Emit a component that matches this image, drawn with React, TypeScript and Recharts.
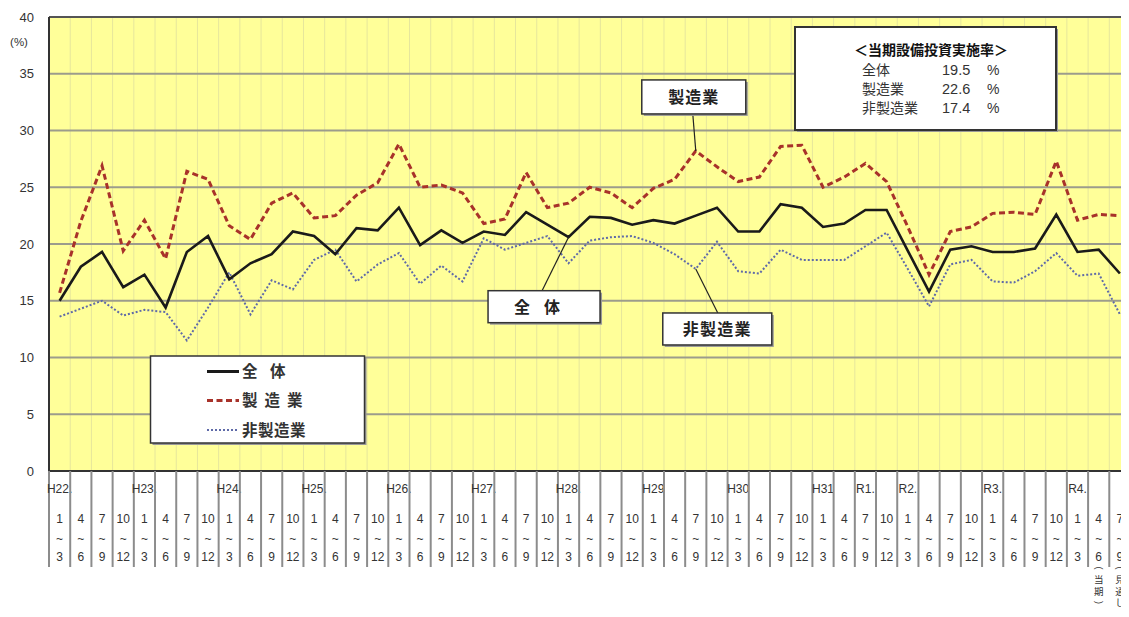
import {
  LineChart,
  Line,
  XAxis,
  YAxis,
  CartesianGrid,
  ReferenceLine,
  ReferenceDot,
} from "recharts"

// 四半期ラベル: [年度, 開始月, 終了月, 注記]
const categories: [string, string, string, string?][] = [
  ["H22.", "1", "3"], ["", "4", "6"], ["", "7", "9"], ["", "10", "12"],
  ["H23.", "1", "3"], ["", "4", "6"], ["", "7", "9"], ["", "10", "12"],
  ["H24.", "1", "3"], ["", "4", "6"], ["", "7", "9"], ["", "10", "12"],
  ["H25.", "1", "3"], ["", "4", "6"], ["", "7", "9"], ["", "10", "12"],
  ["H26.", "1", "3"], ["", "4", "6"], ["", "7", "9"], ["", "10", "12"],
  ["H27.", "1", "3"], ["", "4", "6"], ["", "7", "9"], ["", "10", "12"],
  ["H28.", "1", "3"], ["", "4", "6"], ["", "7", "9"], ["", "10", "12"],
  ["H29", "1", "3"], ["", "4", "6"], ["", "7", "9"], ["", "10", "12"],
  ["H30", "1", "3"], ["", "4", "6"], ["", "7", "9"], ["", "10", "12"],
  ["H31", "1", "3"], ["", "4", "6"],
  ["R1.", "7", "9"], ["", "10", "12"],
  ["R2.", "1", "3"], ["", "4", "6"], ["", "7", "9"], ["", "10", "12"],
  ["R3.", "1", "3"], ["", "4", "6"], ["", "7", "9"], ["", "10", "12"],
  ["R4.", "1", "3"], ["", "4", "6", "当期"], ["", "7", "9", "見通し"],
]

// 設備投資実施率 (%)
const total = [
  15.0, 18.0, 19.3, 16.2, 17.3, 14.4, 19.3, 20.7, 16.9, 18.3,
  19.1, 21.1, 20.7, 19.1, 21.4, 21.2, 23.2, 19.9, 21.2, 20.1,
  21.1, 20.8, 22.8, 21.7, 20.6, 22.4, 22.3, 21.7, 22.1, 21.8,
  22.5, 23.2, 21.1, 21.1, 23.5, 23.2, 21.5, 21.8, 23.0, 23.0,
  19.4, 15.8, 19.5, 19.8, 19.3, 19.3, 19.6, 22.6, 19.3, 19.5, 17.4,
]
const manufacturing = [
  15.7, 22.0, 26.9, 19.4, 22.1, 18.7, 26.4, 25.7, 21.6, 20.4,
  23.6, 24.5, 22.3, 22.5, 24.3, 25.4, 28.8, 25.0, 25.2, 24.5,
  21.8, 22.2, 26.3, 23.2, 23.6, 25.0, 24.5, 23.2, 24.9, 25.7,
  28.2, 26.8, 25.5, 25.9, 28.6, 28.7, 25.0, 25.9, 27.1, 25.5,
  21.5, 17.3, 21.1, 21.5, 22.7, 22.8, 22.6, 27.3, 22.1, 22.6, 22.5,
]
const nonManufacturing = [
  13.6, 14.3, 15.0, 13.7, 14.2, 14.0, 11.5, 14.4, 17.5, 13.8,
  16.8, 16.0, 18.6, 19.5, 16.7, 18.2, 19.2, 16.5, 18.1, 16.7,
  20.5, 19.5, 20.1, 20.7, 18.3, 20.3, 20.6, 20.7, 20.1, 19.1,
  17.8, 20.2, 17.6, 17.4, 19.5, 18.6, 18.6, 18.6, 19.8, 21.0,
  17.8, 14.5, 18.2, 18.6, 16.7, 16.6, 17.6, 19.2, 17.2, 17.4, 13.8,
]

const yTicks = [0, 5, 10, 15, 20, 25, 30, 35, 40]
const CURRENT = 49 // 当期 (R4.4~6)
const CALLOUT_AT = { total: 24, mfg: 30, nonMfg: 30 }

const W = 1140
const H = 617
const Y_AXIS_W = 49
const RIGHT = 9.5
const BAND = (W - Y_AXIS_W - RIGHT) / categories.length

const JP = "'Noto Sans CJK JP', 'Noto Sans', sans-serif"
const NUM = "'Liberation Sans', Arial, sans-serif"

const chartData = categories.map((_, i) => ({
  pos: i + 0.5,
  total: total[i],
  mfg: manufacturing[i],
  nonMfg: nonManufacturing[i],
}))
const boundaries = Array.from({ length: categories.length + 1 }, (_, i) => i)

function PeriodTick({ x, y, payload }: any) {
  const cat = categories[payload.value]
  const cx = x + BAND / 2
  const note = cat && cat[3] ? ["(", ...cat[3].split(""), ")"] : []
  return (
    <g>
      <line x1={x} y1={y} x2={x} y2={y + 96} stroke="#8c8c8c" strokeWidth={2} />
      {cat && (
        <g fontFamily={NUM} fontSize={12} fill="#333" textAnchor="middle">
          {cat[0] && <text x={cx} y={y + 22}>{cat[0]}</text>}
          <text x={cx} y={y + 52}>{cat[1]}</text>
          <text x={cx} y={y + 72}>~</text>
          <text x={cx} y={y + 90}>{cat[2]}</text>
          {/* 縦書きの注記、括弧は90度回転 */}
          {note.map((ch, k) => {
            const cy = y + 97 + k * 11.5
            const paren = ch === "(" || ch === ")"
            return paren ? (
              <text
                key={k}
                x={cx}
                y={cy}
                dominantBaseline="central"
                fontSize={9}
                transform={`rotate(90 ${cx} ${cy})`}
              >
                {ch}
              </text>
            ) : (
              <text key={k} x={cx} y={cy + 3.5} fontFamily={JP} fontSize={9.5}>
                {ch}
              </text>
            )
          })}
        </g>
      )}
    </g>
  )
}

function ValueTick({ x, y, payload }: any) {
  return (
    <text x={x - 15} y={y + 4.5} textAnchor="end" fontFamily={NUM} fontSize={13} fill="#333">
      {payload.value}
    </text>
  )
}

// 吹き出し: データ点から引出線を引いた白い枠
function Callout({ cx, cy, box, anchor, text, spacing }: any) {
  const [bx, by, bw, bh] = box
  return (
    <g>
      <line x1={cx + anchor[0]} y1={cy + anchor[1]} x2={cx} y2={cy} stroke="#222" strokeWidth={1.2} />
      <rect x={cx + bx + 2} y={cy + by + 2} width={bw} height={bh} fill="#9a9a9a" />
      <rect x={cx + bx} y={cy + by} width={bw} height={bh} fill="#fff" stroke="#333" strokeWidth={1.5} />
      <text
        x={cx + bx + bw / 2}
        y={cy + by + bh / 2 + 6}
        textAnchor="middle"
        fontFamily={JP}
        fontSize={16}
        fontWeight="bold"
        letterSpacing={spacing}
        fill="#222"
      >
        {text}
      </text>
    </g>
  )
}

export default function App() {
  return (
    <div
      style={{
        position: "relative",
        margin: -8,
        width: 1129,
        height: 617,
        overflow: "hidden",
        background: "#fff",
        fontFamily: JP,
      }}
    >
      <LineChart width={W} height={H} data={chartData} margin={{ top: 17, right: RIGHT, bottom: 0, left: 0 }}>
        <CartesianGrid horizontal={false} vertical fill="#ffff99" stroke="#e6e69c" strokeWidth={1} />
        <CartesianGrid horizontal vertical={false} stroke="#9c9c8c" strokeWidth={2} />
        <XAxis
          dataKey="pos"
          type="number"
          domain={[0, categories.length]}
          ticks={boundaries}
          interval={0}
          height={146}
          tickSize={0}
          tickMargin={0}
          tickLine={false}
          axisLine={{ stroke: "#333", strokeWidth: 2 }}
          tick={<PeriodTick />}
        />
        <YAxis
          domain={[0, 40]}
          ticks={yTicks}
          interval={0}
          width={Y_AXIS_W}
          tickSize={0}
          tickMargin={0}
          tickLine={false}
          axisLine={{ stroke: "#333", strokeWidth: 2 }}
          tick={<ValueTick />}
        />
        <ReferenceLine y={40} stroke="#555" strokeWidth={2} />
        <Line
          dataKey="nonMfg"
          stroke="#5f6aa8"
          strokeWidth={2}
          strokeDasharray="2 2"
          dot={false}
          activeDot={false}
          isAnimationActive={false}
        />
        <Line
          dataKey="mfg"
          stroke="#a8322a"
          strokeWidth={3}
          strokeDasharray="6 3.5"
          dot={false}
          activeDot={false}
          isAnimationActive={false}
        />
        <Line
          dataKey="total"
          stroke="#1a1a1a"
          strokeWidth={2.6}
          dot={false}
          activeDot={false}
          isAnimationActive={false}
        />
        <ReferenceDot
          x={chartData[CALLOUT_AT.mfg].pos}
          y={manufacturing[CALLOUT_AT.mfg]}
          r={2}
          ifOverflow="visible"
          shape={(p: any) => (
            <Callout cx={p.cx} cy={p.cy} box={[-54, -71, 104, 34]} anchor={[-3, -37]} text="製造業" spacing={1} />
          )}
        />
        <ReferenceDot
          x={chartData[CALLOUT_AT.total].pos}
          y={total[CALLOUT_AT.total]}
          r={2}
          ifOverflow="visible"
          shape={(p: any) => (
            <Callout cx={p.cx} cy={p.cy} box={[-80.5, 53.5, 112, 32]} anchor={[-26.5, 53.5]} text="全体" spacing={14} />
          )}
        />
        <ReferenceDot
          x={chartData[CALLOUT_AT.nonMfg].pos}
          y={nonManufacturing[CALLOUT_AT.nonMfg]}
          r={2}
          ifOverflow="visible"
          shape={(p: any) => (
            <Callout cx={p.cx} cy={p.cy} box={[-33, 44, 109, 32]} anchor={[22, 44]} text="非製造業" spacing={1.3} />
          )}
        />
      </LineChart>

      <svg
        width={1129}
        height={617}
        style={{ position: "absolute", left: 0, top: 0, pointerEvents: "none" }}
      >
        <text x={19} y={46} textAnchor="middle" fontFamily={NUM} fontSize={11.5} fill="#333">
          (%)
        </text>

        {/* 当期の実施率 */}
        <rect x={797} y={29} width={261} height={103} fill="#9a9a9a" />
        <rect x={795} y={27} width={261} height={103} fill="#fff" stroke="#333" strokeWidth={2} />
        <text x={931} y={55} textAnchor="middle" fontFamily={JP} fontSize={14} fontWeight="bold" fill="#111">
          ＜当期設備投資実施率＞
        </text>
        {[
          ["全体", total[CURRENT]],
          ["製造業", manufacturing[CURRENT]],
          ["非製造業", nonManufacturing[CURRENT]],
        ].map(([name, v], k) => (
          <g key={k} fill="#333" fontSize={14}>
            <text x={862} y={75 + k * 19} fontFamily={JP}>{name}</text>
            <text x={942} y={75 + k * 19} fontFamily={NUM} fontSize={14.5}>{(v as number).toFixed(1)}</text>
            <text x={987} y={75 + k * 19} fontFamily={NUM}>%</text>
          </g>
        ))}

        {/* 凡例 */}
        <rect x={152.5} y={358} width={214} height={87} fill="#9a9a9a" />
        <rect x={150.5} y={356} width={214} height={87} fill="#fff" stroke="#333" strokeWidth={1.5} />
        <line x1={207} y1={371.5} x2={239} y2={371.5} stroke="#1a1a1a" strokeWidth={3} />
        <line x1={207} y1={400.5} x2={239} y2={400.5} stroke="#a8322a" strokeWidth={3} strokeDasharray="6 3.5" />
        <line x1={207} y1={430} x2={239} y2={430} stroke="#5f6aa8" strokeWidth={2} strokeDasharray="2 2" />
        <g fontFamily={JP} fontSize={15.5} fontWeight="bold" fill="#333">
          <text x={242} y={377} letterSpacing={12.5}>全体</text>
          <text x={242} y={406} letterSpacing={7}>製造業</text>
          <text x={242} y={436} letterSpacing={0.5}>非製造業</text>
        </g>
      </svg>
    </div>
  )
}
